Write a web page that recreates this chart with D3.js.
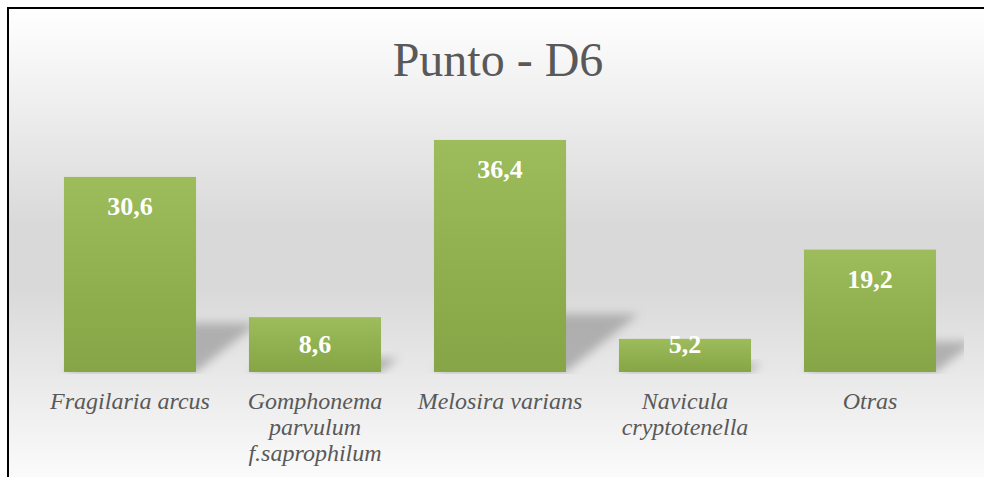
<!DOCTYPE html>
<html><head><meta charset="utf-8">
<script src="https://cdn.jsdelivr.net/npm/d3@7"></script>
</head><body>
<svg id="c" width="984" height="477"></svg>
<script>
const categories = [
  ["Fragilaria arcus"],
  ["Gomphonema", "parvulum", "f.saprophilum"],
  ["Melosira varians"],
  ["Navicula", "cryptotenella"],
  ["Otras"]
];
const values = [30.6, 8.6, 36.4, 5.2, 19.2];
const valueLabels = ["30,6", "8,6", "36,4", "5,2", "19,2"];
const title = "Punto - D6";

d3.select("body").style("margin","0px").style("padding","0px");
const FONT = '"Liberation Serif"';
const svg = d3.select("#c").style("display","block");
const defs = svg.append("defs");

const bg = defs.append("linearGradient").attr("id","bg").attr("gradientUnits","userSpaceOnUse")
  .attr("x1",0).attr("y1",9).attr("x2",0).attr("y2",490);
[[0,"#ffffff"],[0.45,"#d9d9d9"],[0.58,"#d9d9d9"],[1,"#fdfdfd"]].forEach(s=>
  bg.append("stop").attr("offset",s[0]).attr("stop-color",s[1]));

const bar = defs.append("linearGradient").attr("id","bar").attr("x1",0).attr("y1",0).attr("x2",0).attr("y2",1);
bar.append("stop").attr("offset",0).attr("stop-color","#9dbc5b");
bar.append("stop").attr("offset",1).attr("stop-color","#85a546");

defs.append("filter").attr("id","blur").attr("x","-50%").attr("y","-50%").attr("width","200%").attr("height","200%")
  .append("feGaussianBlur").attr("stdDeviation",5);

defs.append("clipPath").attr("id","plotclip").append("rect")
  .attr("x",9).attr("y",9).attr("width",955).attr("height",365);

svg.append("rect").attr("x",8).attr("y",8).attr("width",1000).attr("height",500)
  .attr("fill","url(#bg)").attr("stroke","#000").attr("stroke-width",2);

svg.append("text").attr("x",498).attr("y",76).attr("text-anchor","middle")
  .style("font-family",FONT).style("font-size","48px").attr("fill","#595959").text(title);

const x = d3.scaleBand().domain(d3.range(values.length)).range([37.5, 962.5]).paddingInner(0.286).paddingOuter(0.143);
const y = d3.scaleLinear().domain([0, 40]).range([372, 117]);

// shadows
const sg = svg.append("g").attr("clip-path","url(#plotclip)");
sg.selectAll("path").data(values).join("path")
  .attr("d",(d,i)=>{
    const x0 = x(i), x1 = x(i)+x.bandwidth(), b = y(0);
    const sh = (b - y(d))*0.25, dx = sh*1.25;
    return `M${x0},${b}L${x1},${b}L${x1+dx},${b-sh}L${x0+dx},${b-sh}Z`;
  })
  .attr("fill","#9a9a9a").attr("opacity",0.7).attr("filter","url(#blur)");

svg.append("g").selectAll("rect").data(values).join("rect")
  .attr("x",(d,i)=>x(i)).attr("width",x.bandwidth())
  .attr("y",d=>y(d)).attr("height",d=>y(0)-y(d))
  .attr("fill","url(#bar)");

svg.append("g").selectAll("text").data(values).join("text")
  .attr("x",(d,i)=>x(i)+x.bandwidth()/2)
  .attr("y",d=>Math.min(y(d)+38, y(0)-19))
  .attr("text-anchor","middle")
  .style("font-family",FONT).style("font-size","26px").style("font-weight","bold").attr("fill","#ffffff")
  .text((d,i)=>valueLabels[i]);

const cl = svg.append("g").selectAll("text").data(categories).join("text")
  .attr("x",(d,i)=>x(i)+x.bandwidth()/2).attr("y",409)
  .attr("text-anchor","middle")
  .style("font-family",FONT).style("font-size","24px").style("font-style","italic").attr("fill","#595959");
cl.each(function(d,i){
  const t = d3.select(this);
  d.forEach((line,j)=>t.append("tspan").attr("x",x(i)+x.bandwidth()/2).attr("dy", j===0?0:26).text(line));
});
</script>
</body></html>
